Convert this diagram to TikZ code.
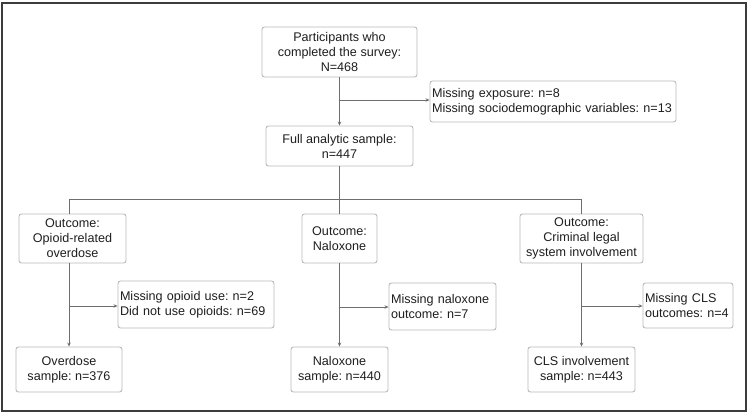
\documentclass[tikz,border=0pt]{standalone}
\usepackage{fontspec}
\setmainfont{Liberation Sans}
\usetikzlibrary{arrows.meta,calc}
\definecolor{boxline}{RGB}{185,185,185}
\definecolor{conn}{RGB}{110,110,110}
\definecolor{frame}{RGB}{60,60,60}
\definecolor{txt}{RGB}{30,30,30}
\tikzset{
  box/.style={draw=boxline, line width=0.9pt, rounded corners=2.5pt, inner sep=2pt,
    text=txt, font=\fontsize{12.6}{15}\selectfont\frenchspacing, align=center},
  leftbox/.style={box, align=left, text width=#1},
  conline/.style={draw=conn, line width=0.8pt},
  arr/.style={conline, -{Stealth[length=4pt,width=3.5pt]}}
}
\begin{document}
\frenchspacing
\begin{tikzpicture}[x=1pt,y=-1pt]
\useasboundingbox (0,0) rectangle (749,414);
\draw[frame, line width=1.6pt] (2,3) rectangle (746,411);

\node[box, minimum width=155pt, minimum height=50pt] (top) at (339.5,52) {Participants who\\completed the survey:\\N=468};
\node[leftbox=242pt, minimum width=246pt, minimum height=41pt] (excl) at (553,101.5) {Missing exposure: n=8\\Missing sociodemographic variables: n=13};
\node[box, minimum width=147pt, minimum height=40pt] (full) at (339.5,146) {Full analytic sample:\\n=447};

\node[box, minimum width=107pt, minimum height=49pt] (out1) at (72.5,238.5) {Outcome:\\Opioid-related\\overdose};
\node[box, minimum width=75pt, minimum height=49pt] (out2) at (339.5,238.5) {Outcome:\\Naloxone};
\node[box, minimum width=123pt, minimum height=49pt] (out3) at (581.5,238.5) {Outcome:\\Criminal legal\\system involvement};

\node[leftbox=152pt, minimum width=156pt, minimum height=47pt] (miss1) at (196,304.5) {Missing opioid use: n=2\\Did not use opioids: n=69};
\node[leftbox=103pt, minimum width=107pt, minimum height=47pt] (miss2) at (442.5,306.5) {Missing naloxone\\outcome: n=7};
\node[leftbox=86pt, minimum width=90pt, minimum height=45pt] (miss3) at (688,305.5) {Missing CLS\\outcomes: n=4};

\node[box, minimum width=106pt, minimum height=45pt] (s1) at (69,369.5) {Overdose\\sample: n=376};
\node[box, minimum width=97pt, minimum height=45pt] (s2) at (339.5,369.5) {Naloxone\\sample: n=440};
\node[box, minimum width=107pt, minimum height=45pt] (s3) at (581.5,369.5) {CLS involvement\\sample: n=443};

% top part
\draw[arr] (top.south) -- (full.north);
\coordinate (b0) at ($(top.south)!0.5!(full.north)$);
\draw[arr] (b0 |- 0,100) -- (excl.west |- 0,100);

% bus
\coordinate (bus) at (339.5,199);
\draw[conline] (full.south) -- (bus);
\draw[conline] (s1.north |- bus) -- (s3.north |- bus);
\draw[conline] (s1.north |- bus) -- (s1.north |- out1.north);
\draw[conline] (bus) -- (out2.north);
\draw[conline] (s3.north |- bus) -- (out3.north);

% branches
\draw[arr] (s1.north |- out1.south) -- (s1.north);
\draw[arr] (s1.north |- 0,306) -- (miss1.west |- 0,306);
\draw[arr] (out2.south) -- (s2.north);
\draw[arr] (s2.north |- 0,307) -- (miss2.west |- 0,307);
\draw[arr] (out3.south) -- (s3.north);
\draw[arr] (s3.north |- 0,306) -- (miss3.west |- 0,306);
\end{tikzpicture}
\end{document}
